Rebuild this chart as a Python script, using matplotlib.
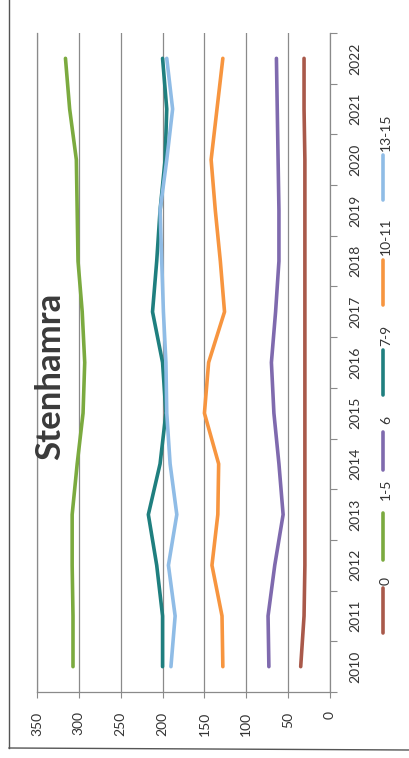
"""Stenhamra — antal per åldersgrupp 2010-2022 (roterat diagram)"""

import matplotlib
matplotlib.use("Agg")
import matplotlib.pyplot as plt
from matplotlib.lines import Line2D

# ═══════════════════════════════════════════
#  Data
# ═══════════════════════════════════════════

years = [str(y) for y in range(2010, 2023)]
series_names = ["0", "1-5", "6", "7-9", "10-11", "13-15"]
s_0 = [35, 31, 30, 30, 30, 30, 30, 30, 30, 30, 30, 31, 31]
s_1_5 = [307, 307, 308, 308, 302, 295, 293, 296, 301, 302, 303, 311, 316]
s_6 = [73, 74, 66, 56, 61, 67, 70, 65, 61, 61, 62, 63, 64]
s_7_9 = [200, 200, 207, 217, 203, 196, 200, 212, 207, 203, 197, 195, 200]
s_10_11 = [128, 129, 141, 134, 133, 150, 145, 126, 131, 137, 142, 135, 128]
s_13_15 = [190, 185, 193, 183, 191, 195, 196, 199, 201, 203, 195, 188, 195]
value_ticks = [0, 50, 100, 150, 200, 250, 300, 350]
title = "Stenhamra"

colors = ["#A9594A", "#7BAA3F", "#7F6AAE", "#1F7F7F", "#F7953F", "#8FBCE6"]
all_series = [s_0, s_1_5, s_6, s_7_9, s_10_11, s_13_15]

W, H = 409, 758
FONT = ["Lato", "DejaVu Sans"]
TXT = "#333333"
GRID = "#8a8a8a"


def fx(px):
    return px / W


def fy(py):
    return 1 - py / H


fig = plt.figure(figsize=(W / 100, H / 100), dpi=100)
fig.patch.set_facecolor("white")

# 坐标区（值轴水平反向，年份竖直）
ax = fig.add_axes([fx(37), fy(692), fx(330) - fx(37), fy(33) - fy(692)])
pos = list(range(len(years)))
for vals, c in zip(all_series, colors):
    ax.plot(vals, pos, color=c, linewidth=2.6, solid_capstyle="round", zorder=3)

ax.set_xlim(350, 0)
ax.set_ylim(-0.5, len(years) - 0.5)

# 值轴
ax.set_xticks(value_ticks)
ax.set_xticklabels([str(v) for v in value_ticks], rotation=90, family=FONT,
                   fontsize=10, color=TXT)
ax.tick_params(axis="x", length=4, width=0.8, color=GRID, pad=10)
ax.grid(axis="x", color=GRID, linewidth=0.9, zorder=0)

# 年份轴（右侧）
ax.yaxis.tick_right()
ax.set_yticks(pos)
ax.set_yticklabels(years, rotation=90, family=FONT, fontsize=10, color=TXT,
                   va="center")
ax.set_yticks([p - 0.5 for p in pos] + [len(years) - 0.5], minor=True)
ax.tick_params(axis="y", which="major", length=0, pad=14)
ax.tick_params(axis="y", which="minor", length=5, width=0.8, color=GRID,
               right=True, left=False)

for side in ["top"]:
    ax.spines[side].set_visible(False)
for side in ["left", "right", "bottom"]:
    ax.spines[side].set_color(GRID)
    ax.spines[side].set_linewidth(0.9)

# 标题
fig.text(fx(50), fy(376), title, rotation=90, ha="center", va="center",
         family=FONT, fontweight="bold", fontsize=25, color="#3a3a3a")

# 图例（手动绘制，旋转）
legend_pos = [(633, 588, 585), (560, 513, 500), (470, 432, 424),
              (395, 350, 346), (305, 260, 255), (200, 155, 151)]
for (y0, y1, yt), name, c in zip(legend_pos, series_names, colors):
    fig.add_artist(Line2D([fx(383), fx(383)], [fy(y0), fy(y1)], color=c,
                          linewidth=2.6, solid_capstyle="round"))
    fig.text(fx(386), fy(yt), name, rotation=90, rotation_mode="anchor",
             ha="left", va="center", family=FONT, fontsize=10, color=TXT)

# 图表外框
fig.add_artist(Line2D([fx(9), fx(9)], [fy(0), fy(748)], color="#555555", linewidth=1))
fig.add_artist(Line2D([fx(9), fx(409)], [fy(748), fy(750)], color="#555555", linewidth=1))

fig.savefig("out.png", dpi=100)
